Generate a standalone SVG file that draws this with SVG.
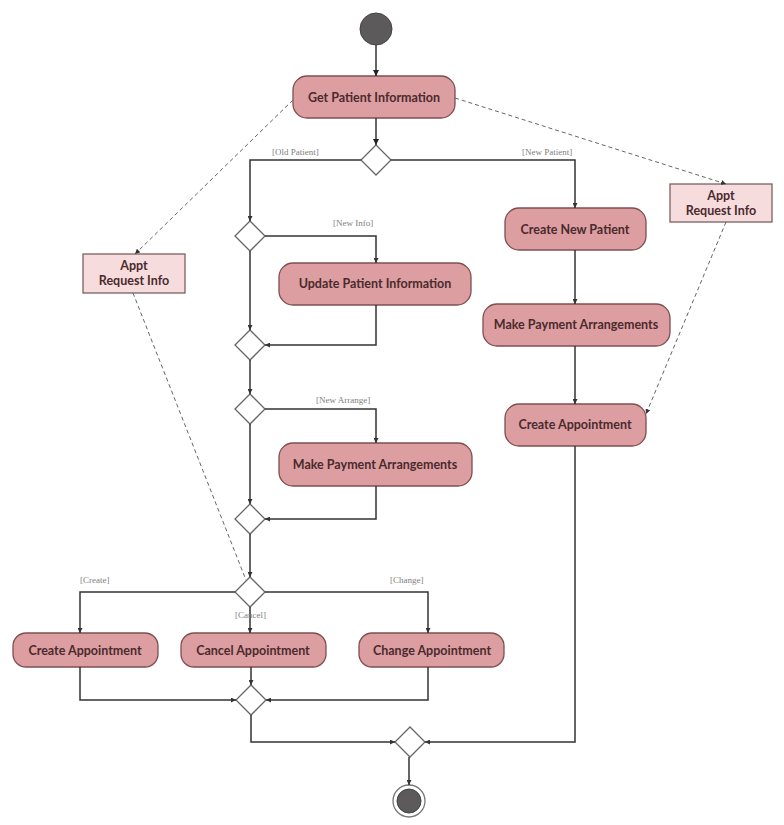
<svg xmlns="http://www.w3.org/2000/svg" width="784" height="825" viewBox="0 0 784 825">
<style>
.act rect{fill:#dc9ea1;stroke:#7d4f51;stroke-width:1.3}
.act text,.obj text{font-family:Lato,"Open Sans",sans-serif;font-weight:bold;font-size:12.5px;fill:#4a2a2d;text-anchor:middle}
.obj rect{fill:#f6dcdd;stroke:#7d6062;stroke-width:1.3}
.dec polygon{fill:#fff;stroke:#666;stroke-width:1.3}
.flow{fill:none;stroke:#333;stroke-width:1.5}
.dash{fill:none;stroke:#666;stroke-width:1;stroke-dasharray:4,3}
.guard{font-family:"Liberation Serif",serif;font-size:9px;fill:#808080}
</style>
<defs>
<marker id="ah" viewBox="0 0 10 10" refX="10" refY="5" markerWidth="6" markerHeight="6" orient="auto" markerUnits="userSpaceOnUse"><path d="M0,0L10,5L0,10z" fill="#222"/></marker>
<marker id="ahs" viewBox="0 0 10 10" refX="10" refY="5" markerWidth="5" markerHeight="5" orient="auto" markerUnits="userSpaceOnUse"><path d="M0,0L10,5L0,10z" fill="#333"/></marker>
</defs>

<g id="start"><circle cx="376" cy="29" r="16" fill="#5c5a5b" stroke="#444" stroke-width="1"/></g>
<g id="getPatient" class="act"><rect x="293" y="76" width="162" height="42" rx="14"/><text x="374" y="102">Get Patient Information</text></g>
<g id="d1" class="dec"><polygon points="376,145 391,160 376,175 361,160"/></g>
<g id="d2" class="dec"><polygon points="250,221 265,236 250,251 235,236"/></g>
<g id="updatePatient" class="act"><rect x="279" y="263" width="192" height="42" rx="14"/><text x="375" y="288">Update Patient Information</text></g>
<g id="d3" class="dec"><polygon points="250,330 265,345 250,360 235,345"/></g>
<g id="d4" class="dec"><polygon points="250,394 265,409 250,424 235,409"/></g>
<g id="makePayment1" class="act"><rect x="279" y="443" width="193" height="43" rx="14"/><text x="375" y="469">Make Payment Arrangements</text></g>
<g id="d5" class="dec"><polygon points="250,504 265,519 250,534 235,519"/></g>
<g id="d6" class="dec"><polygon points="250,577 265,592 250,607 235,592"/></g>
<g id="createAppt1" class="act"><rect x="13" y="633" width="145" height="34" rx="13"/><text x="85" y="655">Create Appointment</text></g>
<g id="cancelAppt" class="act"><rect x="181" y="633" width="145" height="34" rx="13"/><text x="253" y="655">Cancel Appointment</text></g>
<g id="changeAppt" class="act"><rect x="359" y="633" width="145" height="34" rx="13"/><text x="432" y="655">Change Appointment</text></g>
<g id="d7" class="dec"><polygon points="251,685 266,700 251,715 236,700"/></g>
<g id="createNewPatient" class="act"><rect x="505" y="208" width="141" height="42" rx="14"/><text x="575" y="234">Create New Patient</text></g>
<g id="makePayment2" class="act"><rect x="483" y="304" width="187" height="42" rx="14"/><text x="576" y="329">Make Payment Arrangements</text></g>
<g id="createAppt2" class="act"><rect x="505" y="404" width="141" height="42" rx="14"/><text x="575" y="429">Create Appointment</text></g>
<g id="d8" class="dec"><polygon points="410,727 425,742 410,757 395,742"/></g>
<g id="end"><circle cx="409" cy="801" r="16" fill="#fff" stroke="#777" stroke-width="1.3"/><circle cx="409" cy="801" r="12" fill="#5c5a5b" stroke="#444" stroke-width="1"/></g>
<g id="apptInfoLeft" class="obj"><rect x="83" y="254" width="102" height="39"/><text x="134" y="270">Appt</text><text x="134" y="285">Request Info</text></g>
<g id="apptInfoRight" class="obj"><rect x="670" y="184" width="102" height="38"/><text x="721" y="200">Appt</text><text x="721" y="215">Request Info</text></g>

<g id="connectors">
<path class="flow" d="M376,45V76" marker-end="url(#ah)"/>
<path class="flow" d="M376,118V145" marker-end="url(#ah)"/>
<path class="flow" d="M361,160H250V221" marker-end="url(#ahs)"/>
<path class="flow" d="M391,160H575V208" marker-end="url(#ahs)"/>
<path class="flow" d="M265,236H376V263" marker-end="url(#ahs)"/>
<path class="flow" d="M250,251V330" marker-end="url(#ahs)"/>
<path class="flow" d="M376,305V345H265" marker-end="url(#ahs)"/>
<path class="flow" d="M250,360V394" marker-end="url(#ahs)"/>
<path class="flow" d="M265,409H376V443" marker-end="url(#ahs)"/>
<path class="flow" d="M250,424V504" marker-end="url(#ahs)"/>
<path class="flow" d="M376,486V519H265" marker-end="url(#ahs)"/>
<path class="flow" d="M250,534V577" marker-end="url(#ahs)"/>
<path class="flow" d="M235,592H80V633" marker-end="url(#ahs)"/>
<path class="flow" d="M250,607V633" marker-end="url(#ahs)"/>
<path class="flow" d="M265,592H428V633" marker-end="url(#ahs)"/>
<path class="flow" d="M80,667V700H236" marker-end="url(#ahs)"/>
<path class="flow" d="M251,667V685" marker-end="url(#ahs)"/>
<path class="flow" d="M428,667V700H266" marker-end="url(#ahs)"/>
<path class="flow" d="M251,715V742H395" marker-end="url(#ahs)"/>
<path class="flow" d="M575,250V304" marker-end="url(#ahs)"/>
<path class="flow" d="M575,346V404" marker-end="url(#ahs)"/>
<path class="flow" d="M575,446V742H425" marker-end="url(#ahs)"/>
<path class="flow" d="M409,757V785" marker-end="url(#ahs)"/>
<path class="dash" d="M293,100L135,254" marker-end="url(#ahs)"/>
<path class="dash" d="M133,293L246,580"/>
<path class="dash" d="M455,98L726,184" marker-end="url(#ahs)"/>
<path class="dash" d="M726,222L646,414" marker-end="url(#ahs)"/>
<text class="guard" x="272" y="155">[Old Patient]</text>
<text class="guard" x="522" y="155">[New Patient]</text>
<text class="guard" x="333" y="226">[New Info]</text>
<text class="guard" x="316" y="403">[New Arrange]</text>
<text class="guard" x="80" y="583">[Create]</text>
<text class="guard" x="390" y="583">[Change]</text>
<text class="guard" x="235" y="618">[Cancel]</text>
</g>
</svg>
